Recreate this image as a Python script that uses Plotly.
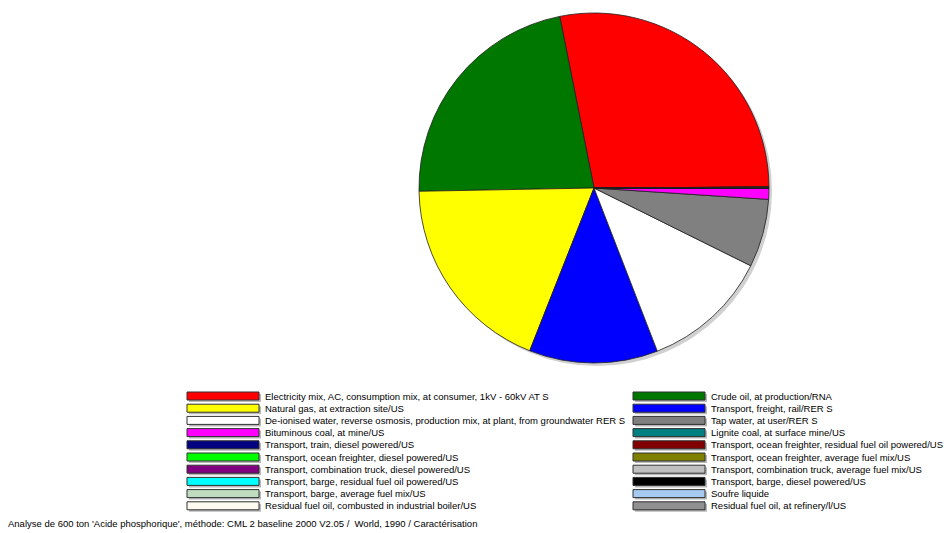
import plotly.graph_objects as go

W, H = 948, 533

labels = [
    "Electricity mix, AC, consumption mix, at consumer, 1kV - 60kV AT S",
    "Crude oil, at production/RNA",
    "Natural gas, at extraction site/US",
    "Transport, freight, rail/RER S",
    "De-ionised water, reverse osmosis, production mix, at plant, from groundwater RER S",
    "Tap water, at user/RER S",
    "Bituminous coal, at mine/US",
    "Lignite coal, at surface mine/US",
    "Transport, train, diesel powered/US",
    "Transport, ocean freighter, residual fuel oil powered/US",
    "Transport, ocean freighter, diesel powered/US",
    "Transport, ocean freighter, average fuel mix/US",
    "Transport, combination truck, diesel powered/US",
    "Transport, combination truck, average fuel mix/US",
    "Transport, barge, residual fuel oil powered/US",
    "Transport, barge, diesel powered/US",
    "Transport, barge, average fuel mix/US",
    "Soufre liquide",
    "Residual fuel oil, combusted in industrial boiler/US",
    "Residual fuel oil, at refinery/l/US",
]
values = [28.1, 22.2, 18.75, 11.9, 11.8, 6.3, 1.0,
          0.01, 0.01, 0.01, 0.01, 0.01, 0.01, 0.01, 0.01, 0.01, 0.01, 0.01, 0.01, 0.01]
colors = ["#FF0000", "#007800", "#FFFF00", "#0000FF", "#FFFFFF", "#808080", "#FF00FF",
          "#008080", "#000080", "#800000", "#00FF00", "#808000", "#800080", "#C0C0C0",
          "#00FFFF", "#000000", "#C0DCC0", "#A6CAF0", "#FFFBF0", "#909090"]
footer = "Analyse de 600 ton 'Acide phosphorique', méthode: CML 2 baseline 2000 V2.05 /  World, 1990 / Caractérisation"

FONT = "Liberation Sans"

def px(x):
    return x / W

def py(y):
    return 1 - y / H

cx, cy, r = 594, 188, 175

fig = go.Figure()
fig.add_trace(go.Pie(
    labels=labels, values=values, sort=False, direction="counterclockwise",
    rotation=-11.3, textinfo="none", hoverinfo="label+percent",
    marker=dict(colors=colors, line=dict(color="#202020", width=0.8)),
    domain=dict(x=[px(cx - r), px(cx + r)], y=[py(cy + r), py(cy - r)]),
    showlegend=False,
))

shapes = []
# pie shadow
shapes.append(dict(type="circle", xref="paper", yref="paper", layer="below",
                   x0=px(cx - r + 3), x1=px(cx + r + 3), y0=py(cy + r + 3), y1=py(cy - r + 3),
                   fillcolor="#d0d0d0", line=dict(width=0)))

annotations = []
for i, (lab, col) in enumerate(zip(labels, colors)):
    row = i // 2
    colm = i % 2
    x0 = 187 if colm == 0 else 633
    tx = 263 if colm == 0 else 709
    y0 = 392 + 12.2 * row
    # swatch shadow
    shapes.append(dict(type="rect", xref="paper", yref="paper", layer="above",
                       x0=px(x0 + 2), x1=px(x0 + 74), y0=py(y0 + 10), y1=py(y0 + 2),
                       fillcolor="#b8b8b8", line=dict(width=0)))
    shapes.append(dict(type="rect", xref="paper", yref="paper", layer="above",
                       x0=px(x0), x1=px(x0 + 72), y0=py(y0 + 8), y1=py(y0),
                       fillcolor=col, line=dict(color="#303030", width=1)))
    annotations.append(dict(x=px(tx), y=py(y0 + 4), xref="paper", yref="paper",
                            text=lab, showarrow=False, xanchor="left", yanchor="middle",
                            font=dict(family=FONT, size=9.5, color="#000000")))

annotations.append(dict(x=px(6), y=py(523), xref="paper", yref="paper", text=footer,
                        showarrow=False, xanchor="left", yanchor="middle",
                        font=dict(family=FONT, size=9.5, color="#000000")))

fig.update_layout(
    width=W, height=H, margin=dict(l=0, r=0, t=0, b=0),
    paper_bgcolor="white", plot_bgcolor="white",
    shapes=shapes, annotations=annotations, showlegend=False,
)
fig.write_html("out.html", config={"displayModeBar": False},
               post_script="document.body.style.margin='0px';")
